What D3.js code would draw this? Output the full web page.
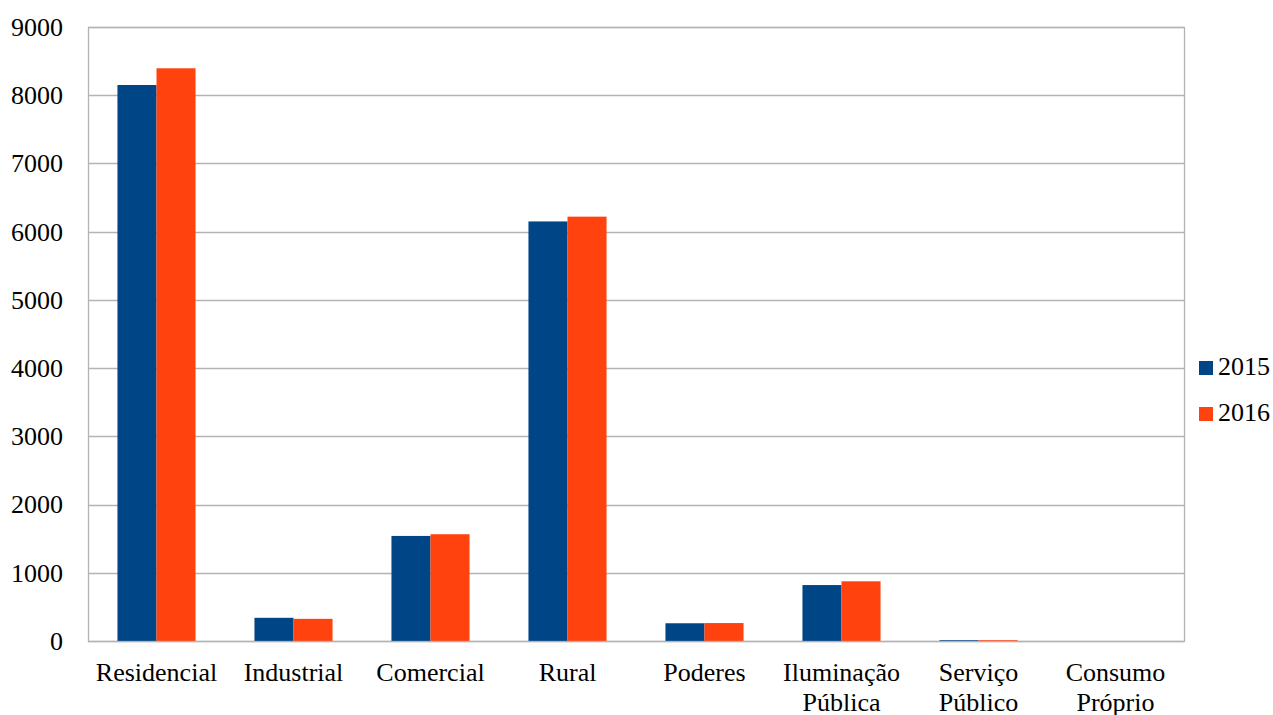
<!DOCTYPE html>
<html>
<head>
<meta charset="utf-8">
<script src="https://cdn.jsdelivr.net/npm/d3@7"></script>
<style>
  body { margin: 0; background: #fff; }
  text { font-family: "Liberation Serif", "Times New Roman", serif; }
</style>
</head>
<body>
<div id="chart-area"></div>
<script>
var categories = [["Residencial"], ["Industrial"], ["Comercial"], ["Rural"], ["Poderes"],
    ["Iluminação", "Pública"], ["Serviço", "Público"], ["Consumo", "Próprio"]];
var seriesNames = ["2015", "2016"];
var values2015 = [8150, 340, 1540, 6150, 260, 820, 12, 0];
var values2016 = [8395, 325, 1565, 6220, 263, 875, 12, 0];
var yTicks = [0, 1000, 2000, 3000, 4000, 5000, 6000, 7000, 8000, 9000];
var colors = ["#004586", "#ff420e"];

var margin = {top: 27, right: 89, bottom: 74, left: 88},
    width = 1273 - margin.left - margin.right,
    height = 715 - margin.top - margin.bottom;

var svg = d3.select("#chart-area")
    .append("svg")
        .attr("width", 1273)
        .attr("height", 715);

var g = svg.append("g")
    .attr("transform", "translate(" + margin.left + "," + margin.top + ")");

var x = d3.scaleBand()
    .domain(d3.range(categories.length))
    .range([0, width])
    .paddingInner(0.43)
    .paddingOuter(0.215);

var x1 = d3.scaleBand()
    .domain(seriesNames)
    .range([0, x.bandwidth()]);

var y = d3.scaleLinear()
    .domain([0, 9000])
    .range([height, 0]);

// grid lines
g.selectAll(".grid")
    .data(yTicks)
    .enter()
    .append("line")
        .attr("x1", 0)
        .attr("x2", width)
        .attr("y1", (d) => Math.round(y(d)) + 0.5)
        .attr("y2", (d) => Math.round(y(d)) + 0.5)
        .attr("stroke", "#b3b3b3")
        .attr("stroke-width", 1.3);

// y tick labels
g.selectAll(".ytick")
    .data(yTicks)
    .enter()
    .append("text")
        .attr("x", -25)
        .attr("y", (d) => y(d))
        .attr("dy", "0.34em")
        .attr("text-anchor", "end")
        .attr("font-size", "26px")
        .attr("fill", "#000")
        .text((d) => d);

// bars
var data = [values2015, values2016];
data.forEach((vals, s) => {
    g.selectAll(".bar" + s)
        .data(vals)
        .enter()
        .append("rect")
            .attr("x", (d, i) => x(i) + x1(seriesNames[s]))
            .attr("y", (d) => y(d))
            .attr("width", x1.bandwidth())
            .attr("height", (d) => height - y(d))
            .attr("fill", colors[s]);
});

// frame
g.append("rect")
    .attr("x", 0.5)
    .attr("y", 0.5)
    .attr("width", width)
    .attr("height", height)
    .attr("fill", "none")
    .attr("stroke", "#b3b3b3")
    .attr("stroke-width", 1.3);

// x labels
var xl = g.selectAll(".xlabel")
    .data(categories)
    .enter()
    .append("text")
        .attr("text-anchor", "middle")
        .attr("font-size", "26px")
        .attr("fill", "#000")
        .attr("transform", (d, i) => "translate(" + (x(i) + x.bandwidth() / 2) + "," + (height + 40) + ")");

xl.selectAll("tspan")
    .data((d) => d)
    .enter()
    .append("tspan")
        .attr("x", 0)
        .attr("y", (d, j) => j * 30)
        .text((d) => d);

// legend
var legend = svg.selectAll(".legend")
    .data(seriesNames)
    .enter()
    .append("g")
        .attr("transform", (d, i) => "translate(1199," + (361 + i * 46) + ")");

legend.append("rect")
    .attr("width", 14)
    .attr("height", 14)
    .attr("fill", (d, i) => colors[i]);

legend.append("text")
    .attr("x", 19)
    .attr("y", 14)
    .attr("font-size", "26px")
    .attr("fill", "#000")
    .text((d) => d);
</script>
</body>
</html>
